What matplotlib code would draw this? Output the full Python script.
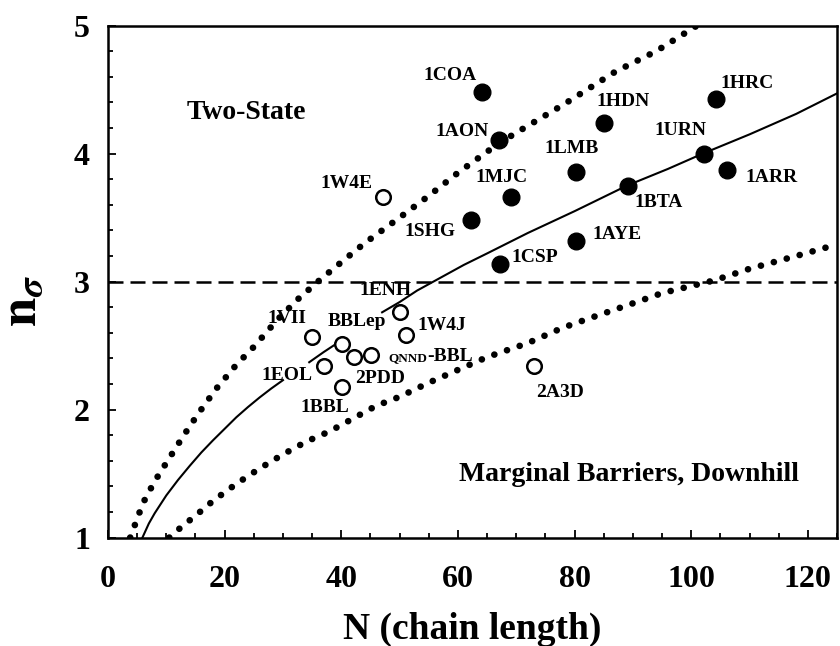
import numpy as np
import matplotlib
matplotlib.use("Agg")
import matplotlib.pyplot as plt
from matplotlib.ticker import MultipleLocator

plt.rcParams["font.family"] = ["Liberation Serif", "DejaVu Serif"]
plt.rcParams["font.weight"] = "bold"
plt.rcParams["axes.labelweight"] = "bold"
plt.rcParams["mathtext.fontset"] = "stix"

# two-state proteins (filled)
filled_names = ["1COA", "1HDN", "1HRC", "1AON", "1LMB", "1URN",
                "1ARR", "1BTA", "1MJC", "1SHG", "1AYE", "1CSP"]
filled_n = [64.1, 85.1, 104.2, 67.1, 80.2, 102.2, 106.2, 89.1, 69.1, 62.2, 80.2, 67.2]
filled_ns = [4.48, 4.24, 4.43, 4.11, 3.86, 4.00, 3.87, 3.75, 3.66, 3.48, 3.32, 3.14]
filled_lx = [58.7, 88.4, 109.6, 60.7, 79.5, 98.1, 113.7, 94.4, 67.5, 55.2, 87.3, 73.2]
filled_ly = [4.61, 4.41, 4.55, 4.17, 4.04, 4.18, 3.81, 3.62, 3.81, 3.39, 3.37, 3.19]

# downhill / marginal barrier proteins (open)
open_names = ["1W4E", "1ENH", "1W4J", "1VII", "BBLep", "2PDD",
              "", "1EOL", "1BBL", "2A3D"]
open_n = [47.1, 50.1, 51.1, 35.0, 40.1, 42.1, 45.1, 37.0, 40.2, 73.1]
open_ns = [3.66, 2.76, 2.58, 2.57, 2.51, 2.41, 2.43, 2.34, 2.18, 2.34]
open_lx = [40.9, 47.5, 57.2, 30.7, 42.7, 46.7, 0, 30.7, 37.2, 77.5]
open_ly = [3.77, 2.93, 2.66, 2.71, 2.69, 2.24, 0, 2.27, 2.02, 2.13]

# solid curve, drawn in pieces (gaps behind labels)
solid_lo_n = [5.9, 7, 8, 9, 10, 12, 14, 16, 18, 20, 22, 24, 26, 28, 30]
solid_lo_v = [1.0, 1.11, 1.19, 1.26, 1.33, 1.45, 1.56, 1.665, 1.76, 1.85,
              1.94, 2.02, 2.095, 2.165, 2.23]
solid_mid_n = [34.5, 37, 40]
solid_mid_v = [2.37, 2.45, 2.54]
solid_hi_n = [47, 50, 53, 57, 61, 65, 72, 80, 89, 96, 102, 110, 118, 125]
solid_hi_v = [2.76, 2.84, 2.93, 3.03, 3.13, 3.22, 3.38, 3.55, 3.75, 3.88,
              4.00, 4.15, 4.31, 4.47]

# dotted bounds
upper_n = [3.8, 6, 8, 10.5, 13, 15.5, 18.5, 22, 25, 29, 32.5, 36.5,
           40.5, 44, 50, 55, 60, 67, 71, 78, 87, 94, 101]
upper_v = [1.0, 1.27, 1.44, 1.62, 1.80, 1.97, 2.16, 2.35, 2.49, 2.70, 2.86, 3.02,
           3.17, 3.30, 3.50, 3.67, 3.85, 4.08, 4.19, 4.38, 4.64, 4.80, 5.0]
lower_n = [10.5, 13, 15, 17, 19, 22, 26, 30, 34, 38, 42, 46, 50, 55, 60,
           65, 72, 78, 83, 90, 95, 104, 110, 118, 125]
lower_v = [1.0, 1.10, 1.17, 1.25, 1.32, 1.42, 1.54, 1.65, 1.75, 1.83, 1.93, 2.03, 2.10,
           2.21, 2.31, 2.41, 2.52, 2.64, 2.72, 2.83, 2.91, 3.01, 3.10, 3.20, 3.29]

THRESH = 3.0

fig = plt.figure(figsize=(8.4, 6.46), dpi=100)
ax = fig.add_axes([0.1286, 0.1678, 0.8678, 0.7926])

ax.axhline(THRESH, color="black", lw=1.8, ls=(0, (6, 2.8)), zorder=1)
for xs, ys in [(solid_lo_n, solid_lo_v), (solid_mid_n, solid_mid_v), (solid_hi_n, solid_hi_v)]:
    ax.plot(xs, ys, color="black", lw=1.5, zorder=2)
for xs, ys in [(upper_n, upper_v), (lower_n, lower_v)]:
    ax.plot(xs, ys, color="black", lw=4.8, ls=(0, (0.01, 2.0)),
            dash_capstyle="round", zorder=2)

ax.plot(filled_n, filled_ns, "o", ms=12, color="black", zorder=4)
ax.plot(open_n, open_ns, "o", ms=10.5, mfc="white", mec="black", mew=1.8, zorder=4)

for name, x, y in zip(filled_names, filled_lx, filled_ly):
    ax.text(x, y, name, fontsize=14, ha="center", va="center", zorder=5)
for name, x, y in zip(open_names, open_lx, open_ly):
    if name:
        ax.text(x, y, name, fontsize=14, ha="center", va="center", zorder=5)
ax.text(54.7, 2.38, "QNND", fontsize=9.5, ha="right", va="baseline", zorder=5)
ax.text(54.7, 2.38, "-BBL", fontsize=14, ha="left", va="baseline", zorder=5)

ax.text(23.8, 4.32, "Two-State", fontsize=20, ha="center", va="center")
ax.text(89.4, 1.49, "Marginal Barriers, Downhill", fontsize=20, ha="center", va="center")

ax.set_xlim(0, 125)
ax.set_ylim(1, 5)
ax.xaxis.set_major_locator(MultipleLocator(20))
ax.xaxis.set_minor_locator(MultipleLocator(5))
ax.yaxis.set_major_locator(MultipleLocator(1))
ax.yaxis.set_minor_locator(MultipleLocator(0.2))
ax.tick_params(which="both", direction="in", width=1.3, labelsize=23)
ax.tick_params(which="major", length=6)
ax.tick_params(which="minor", length=3.5)
ax.tick_params(axis="x", pad=20)
ax.tick_params(axis="y", pad=13)
for s in ax.spines.values():
    s.set_linewidth(1.8)

ax.set_xlabel("N (chain length)", fontsize=27, fontweight="bold")
ax.xaxis.set_label_coords(0.5, -0.145)
ax.set_ylabel(r"$\mathbf{n}_{\sigma}$", fontsize=38)
ax.yaxis.set_label_coords(-0.084, 0.462)

fig.savefig("out.png", dpi=100)
